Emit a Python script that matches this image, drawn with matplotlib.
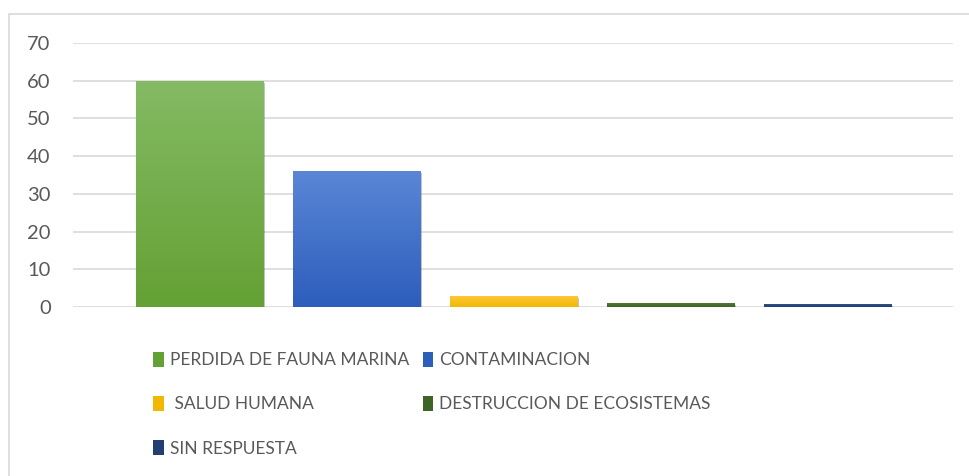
import matplotlib
matplotlib.use("Agg")
import matplotlib.pyplot as plt
import matplotlib.patheffects as pe
from matplotlib.patches import Rectangle
import numpy as np

categories = ["PERDIDA DE FAUNA MARINA", "CONTAMINACION", " SALUD HUMANA",
              "DESTRUCCION DE ECOSISTEMAS", "SIN RESPUESTA"]
values = [60, 36, 3, 1, 0.7]
top_colors = ["#84BA64", "#5A86D6", "#FFC83D", "#4F7A33", "#324F87"]
bottom_colors = ["#64A134", "#2D5EBC", "#F2B800", "#3F6426", "#223F73"]

plt.rcParams['font.family'] = ['Lato', 'DejaVu Sans']

fig = plt.figure(figsize=(9.69, 4.76), dpi=100)
ax = fig.add_axes([0.0753, 0.355, 0.9082, 0.555])

# chart border
fig.patches.append(Rectangle((9 / 969, -0.01), 1.0, 1 - 14 / 476 + 0.01,
                             transform=fig.transFigure, fill=False,
                             edgecolor="#D9D9D9", linewidth=1.2))

x = np.arange(len(values))
width = 0.81
bars = ax.bar(x, values, width=width, color=bottom_colors, zorder=3,
              path_effects=[pe.SimplePatchShadow(offset=(1.5, -1.5), alpha=0.35,
                                                 shadow_rgbFace="#555555"),
                            pe.Normal()])

# vertical gradient fill on each bar
for b, c1, c2 in zip(bars, top_colors, bottom_colors):
    c1 = np.array(matplotlib.colors.to_rgb(c1))
    c2 = np.array(matplotlib.colors.to_rgb(c2))
    t = np.linspace(0, 1, 64)[:, None]
    grad = (c1 * (1 - t) + c2 * t)[:, None, :]
    x0, y0 = b.get_x(), b.get_y()
    im = ax.imshow(grad, extent=[x0, x0 + b.get_width(), y0, y0 + b.get_height()],
                   aspect="auto", zorder=4, origin="upper")
    im.set_clip_path(b)

ax.set_xlim(-0.806, 4.80)
ax.set_ylim(0, 70)
ax.set_yticks(range(0, 71, 10))
ax.set_xticks([])
ax.yaxis.grid(True, color="#D9D9D9", linewidth=1.2, zorder=0)
for s in ax.spines.values():
    s.set_visible(False)
ax.tick_params(axis="y", length=0, labelsize=14.5, labelcolor="#595959", pad=16)

handles = [Rectangle((0, 0), 1, 1, facecolor=c) for c in bottom_colors]
order = [0, 2, 4, 1, 3]
leg = fig.legend([handles[i] for i in order], [categories[i] for i in order],
                 ncol=2, loc="upper left", bbox_to_anchor=(0.151, 0.276),
                 frameon=False, fontsize=12.5, handlelength=0.6, handleheight=1.0,
                 handletextpad=0.35, labelspacing=1.58, columnspacing=0.8,
                 borderaxespad=0)
for t in leg.get_texts():
    t.set_color("#595959")

fig.savefig("out.png", dpi=100)
